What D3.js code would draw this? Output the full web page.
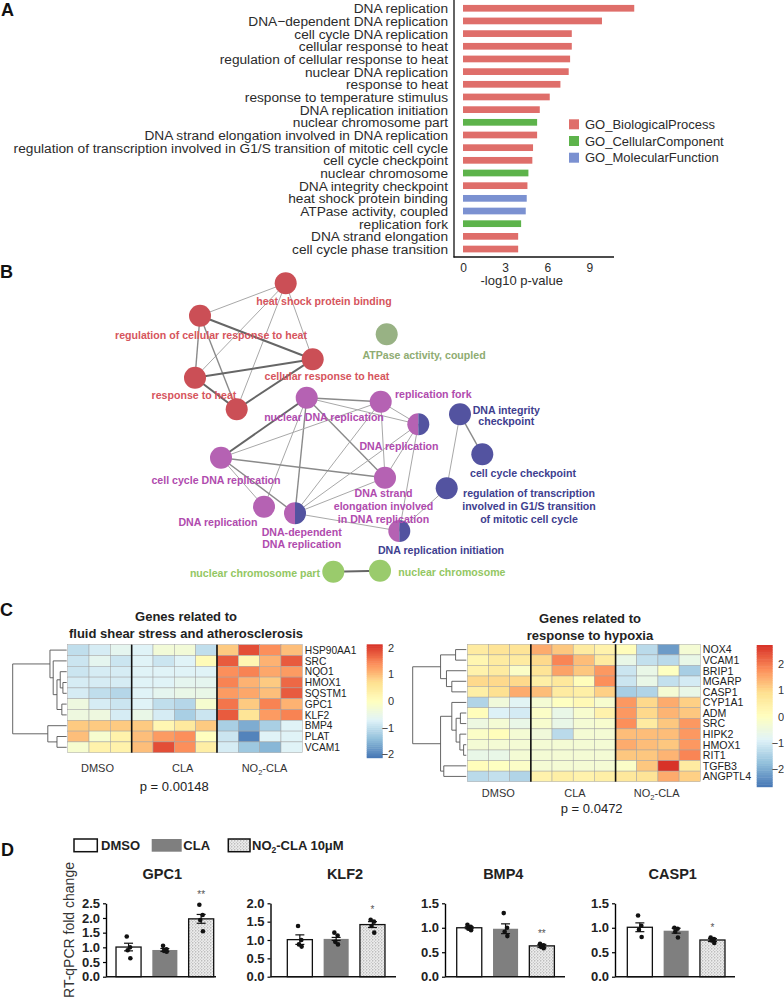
<!DOCTYPE html>
<html>
<head>
<meta charset="utf-8">
<script src="https://cdn.jsdelivr.net/npm/d3@7"></script>
<style>
  body { margin: 0; background: #fff; }
  svg { display: block; font-family: "Liberation Sans", Arial, sans-serif; }
</style>
</head>
<body>
<svg id="fig" width="784" height="998"></svg>
<script>
// ---------- panel A data ----------
const goTerms = ["DNA replication", "DNA\u2212dependent DNA replication", "cell cycle DNA replication",
  "cellular response to heat", "regulation of cellular response to heat", "nuclear DNA replication",
  "response to heat", "response to temperature stimulus", "DNA replication initiation",
  "nuclear chromosome part", "DNA strand elongation involved in DNA replication",
  "regulation of transcription involved in G1/S transition of mitotic cell cycle",
  "cell cycle checkpoint", "nuclear chromosome", "DNA integrity checkpoint",
  "heat shock protein binding", "ATPase activity, coupled", "replication fork",
  "DNA strand elongation", "cell cycle phase transition"];
const goLogP = [12.2, 9.9, 7.75, 7.75, 7.63, 7.53, 6.94, 6.18, 5.47, 5.28, 5.28, 4.99, 4.94, 4.66, 4.59, 4.54, 4.47, 4.14, 3.93, 3.93];
const goSource = ["BP", "BP", "BP", "BP", "BP", "BP", "BP", "BP", "BP", "CC", "BP", "BP", "BP", "CC", "BP", "MF", "MF", "CC", "BP", "BP"];
const goSourceNames = ["GO_BiologicalProcess", "GO_CellularComponent", "GO_MolecularFunction"];

// ---------- panel B data ----------
const netIds = ["hs", "rcr", "crh", "rh", "rts", "atp", "ndr", "rf", "dr1", "ccdr", "dse", "dr2", "ddr", "dri", "dic", "ccc", "rtr", "ncp", "nc"];
const netLabels = [["heat shock protein binding"], ["regulation of cellular response to heat"], ["cellular response to heat"],
  ["response to heat"], [], ["ATPase activity, coupled"], ["nuclear DNA replication"], ["replication fork"],
  ["DNA replication"], ["cell cycle DNA replication"], ["DNA strand", "elongation involved", "in DNA replication"],
  ["DNA replication"], ["DNA-dependent", "DNA replication"], ["DNA replication initiation"],
  ["DNA integrity", "checkpoint"], ["cell cycle checkpoint"],
  ["regulation of transcription", "involved in G1/S transition", "of mitotic cell cycle"],
  ["nuclear chromosome part"], ["nuclear chromosome"]];
const netGroups = [["heat"], ["heat"], ["heat"], ["heat"], ["heat"], ["atp"], ["repl"], ["repl"], ["repl", "check"],
  ["repl"], ["repl"], ["repl"], ["repl", "check"], ["repl", "check"], ["check"], ["check"], ["check"], ["chrom"], ["chrom"]];
const netLabelGroup = ["heat", "heat", "heat", "heat", "heat", "atp", "repl", "repl", "repl", "repl", "repl", "repl", "repl", "check", "check", "check", "check", "chrom", "chrom"];
const netEdges = [
  ["hs", "rcr", 1], ["hs", "rh", 1], ["hs", "rts", 1], ["hs", "crh", 1],
  ["rcr", "crh", 3], ["rcr", "rh", 2], ["rcr", "rts", 2], ["rh", "crh", 3], ["rh", "rts", 3], ["rts", "crh", 3],
  ["ndr", "ccdr", 3], ["ndr", "rf", 2], ["ndr", "dse", 2], ["ndr", "ddr", 2], ["ndr", "dr2", 1], ["ndr", "dr1", 1],
  ["rf", "ccdr", 1], ["rf", "dse", 1], ["rf", "ddr", 1], ["rf", "dr1", 1],
  ["ccdr", "dse", 2], ["ccdr", "dr2", 1], ["ccdr", "ddr", 2], ["dse", "ddr", 1], ["dse", "dr1", 1],
  ["ddr", "dr1", 1], ["ddr", "dri", 1], ["dr1", "dri", 1],
  ["dri", "rtr", 1], ["rtr", "dic", 1], ["dic", "ccc", 2], ["ncp", "nc", 3]];

// ---------- panel C data ----------
const hmGroups = ["DMSO", "CLA", "NO2-CLA"];
const hmGroupSizes = [3, 4, 4];
const hm1Genes = ["HSP90AA1", "SRC", "NQO1", "HMOX1", "SQSTM1", "GPC1", "KLF2", "BMP4", "PLAT", "VCAM1"];
const hm1Values = [
  [-1.0, -0.8, -0.6, -0.7, -0.3, -0.3, -1.0, 0.9, 1.9, 1.4, 1.0],
  [-0.9, -0.6, -0.9, -0.7, -0.9, -0.7, 0.1, 1.8, 0.2, 1.1, 1.8],
  [-0.9, -0.8, -0.8, -0.7, -0.7, -0.7, -0.7, 1.4, 1.5, 1.2, 1.3],
  [-0.8, -0.8, -0.8, -0.7, -0.7, -0.6, -0.6, 1.5, 1.1, 0.9, 1.7],
  [-0.8, -1.0, -1.1, -0.7, -0.6, -0.5, -0.5, 1.3, 1.2, 1.0, 1.8],
  [-0.4, -0.8, -0.9, -0.7, -1.0, -1.1, -0.2, 1.6, 0.9, 1.5, 1.1],
  [-0.4, -0.4, -0.8, -0.5, -0.8, -1.2, -0.9, 1.8, 0.6, 1.3, 1.5],
  [0.9, 0.9, 0.9, 0.9, 0.2, 0.5, 0.9, -1.2, -1.6, -1.2, -0.7],
  [1.0, -0.2, 0.3, 1.0, 1.3, 1.4, 0.0, -0.9, -2.0, -0.7, -0.7],
  [-0.2, 0.3, 0.3, 1.0, 1.9, 1.4, 0.4, -0.8, -1.3, -1.5, -0.7]];
const hm1Tree = { h: 1, kids: [
  { h: 0.31, kids: ["HSP90AA1", { h: 0.25, kids: ["SRC", { h: 0.18, kids: [
    { h: 0.12, kids: ["NQO1", { h: 0.07, kids: ["HMOX1", "SQSTM1"] }] },
    { h: 0.09, kids: ["GPC1", "KLF2"] }] }] }] },
  { h: 0.35, kids: ["BMP4", { h: 0.18, kids: ["PLAT", "VCAM1"] }] }] };
const hm1Title = ["Genes related to", "fluid shear stress and atherosclerosis"];
const hm1P = "p = 0.00148";
const hm1Ticks = [2, 1, 0, -1, -2];

const hm2Genes = ["NOX4", "VCAM1", "BRIP1", "MGARP", "CASP1", "CYP1A1", "ADM", "SRC", "HIPK2", "HMOX1", "RIT1", "TGFB3", "ANGPTL4"];
const hm2Values = [
  [0.6, 0.8, 0.8, 1.5, 1.2, 0.6, 0.4, 0.1, -1.3, -2.2, -0.3],
  [0.3, 0.6, 0.6, 1.0, 1.9, 1.3, 0.6, -0.6, -1.2, -1.3, -0.6],
  [0.4, 0.6, -0.1, 0.8, 1.6, 1.2, 1.7, -1.1, -0.6, 0.0, -1.5],
  [1.0, 1.0, 1.0, 0.5, 0.7, 0.1, 1.8, -1.1, -0.6, -1.2, -1.0],
  [0.5, 0.9, 1.5, 1.3, 0.6, 0.5, 1.1, -1.5, -1.4, -0.3, -0.6],
  [-1.4, -0.4, -0.8, -0.3, 0.0, 0.2, -0.2, 1.7, 1.0, 1.5, 1.1],
  [0.1, -0.9, -1.0, -0.1, -0.6, -0.2, 0.4, 1.7, 1.0, 1.4, 1.2],
  [-0.5, -0.3, -0.6, -0.2, -0.6, -0.3, -0.2, 1.8, 0.6, 1.2, 1.7],
  [-0.1, 0.1, -0.3, -0.4, -1.3, -0.3, -0.3, 1.3, 1.3, 1.3, 1.7],
  [-0.3, -0.3, -0.3, -0.3, -0.3, -0.3, -0.3, 1.5, 1.3, 1.2, 1.7],
  [-0.6, -0.6, -0.3, -0.3, -0.3, -0.3, -0.3, 1.2, 1.2, 1.4, 1.9],
  [0.1, 0.0, -0.1, -0.3, -0.3, -0.3, -0.3, -0.1, 1.2, 2.7, 0.6],
  [-1.3, -1.2, -1.4, 0.4, 0.5, 0.4, 0.5, 0.7, 0.8, 1.5, 1.1]];
const hm2Tree = { h: 1, kids: [
  { h: 0.48, kids: [{ h: 0.2, kids: ["NOX4", "VCAM1"] },
    { h: 0.37, kids: ["BRIP1", { h: 0.27, kids: ["MGARP", "CASP1"] }] }] },
  { h: 0.48, kids: [
    { h: 0.27, kids: ["CYP1A1", { h: 0.19, kids: [{ h: 0.11, kids: ["ADM", "SRC"] },
      { h: 0.12, kids: ["HIPK2", { h: 0.05, kids: ["HMOX1", "RIT1"] }] }] }] },
    { h: 0.42, kids: ["TGFB3", "ANGPTL4"] }] }] };
const hm2Title = ["Genes related to", "response to hypoxia"];
const hm2P = "p = 0.0472";
const hm2Ticks = [2, 1, 0, -1, -2];

// ---------- panel D data ----------
const qGenes = ["GPC1", "KLF2", "BMP4", "CASP1"];
const qGroups = ["DMSO", "CLA", "NO2-CLA 10\u03bcM"];
const qMean = [[1.01, 0.91, 1.97], [1.01, 1.03, 1.42], [1.0, 0.98, 0.63], [1.01, 0.94, 0.75]];
const qSem = [[0.13, 0.05, 0.15], [0.13, 0.04, 0.08], [0.02, 0.10, 0.03], [0.09, 0.05, 0.03]];
const qPoints = [
  [[1.37, 1.0, 0.9, 0.63], [1.05, 0.93, 0.88, 0.85], [2.45, 2.1, 1.93, 1.55]],
  [[1.38, 1.0, 0.88, 0.82], [1.2, 1.12, 0.95, 0.88], [1.55, 1.5, 1.38, 1.2]],
  [[1.06, 1.02, 0.98, 0.95], [1.3, 1.0, 0.92, 0.83], [0.67, 0.64, 0.61, 0.58]],
  [[1.25, 1.04, 0.96, 0.81], [1.0, 0.98, 0.92, 0.8], [0.8, 0.77, 0.74, 0.69]]];
const qYMax = [2.5, 2.0, 1.5, 1.5];
const qSig = ["**", "*", "**", "*"];

// ======================================================
const svg = d3.select("#fig");
svg.append("rect").attr("width", 784).attr("height", 998).attr("fill", "#fff");

const defs = svg.append("defs");
const pat = defs.append("pattern").attr("id", "stipple").attr("patternUnits", "userSpaceOnUse")
  .attr("width", 3).attr("height", 3);
pat.append("rect").attr("width", 3).attr("height", 3).attr("fill", "#ececec");
pat.append("circle").attr("cx", 0.8).attr("cy", 0.8).attr("r", 0.6).attr("fill", "#8a8a8a");
pat.append("circle").attr("cx", 2.3).attr("cy", 2.3).attr("r", 0.5).attr("fill", "#b0b0b0");

function panelLabel(t, x, y) {
  svg.append("text").attr("x", x).attr("y", y).attr("font-size", 18)
    .attr("font-weight", "bold").attr("fill", "#111").text(t);
}
panelLabel("A", 1, 16);
panelLabel("B", 0, 278);
panelLabel("C", 0, 616);
panelLabel("D", 1, 856);

// ---------------- Panel A ----------------
const srcColor = d3.scaleOrdinal().domain(["BP", "CC", "MF"]).range(["#df6e6a", "#5db34b", "#7b91d1"]);
const yA = d3.scaleBand().domain(goTerms).range([2, 255.3]).paddingInner(0.47).paddingOuter(0.23);
const xA = d3.scaleLinear().domain([0, 10.9]).range([463, 616]);
const gA = svg.append("g");

gA.selectAll(".bar").data(goTerms).enter().append("rect")
  .attr("x", xA(0))
  .attr("y", d => yA(d))
  .attr("width", (d, i) => xA(goLogP[i]) - xA(0))
  .attr("height", yA.bandwidth())
  .attr("fill", (d, i) => srcColor(goSource[i]));

gA.selectAll(".lab").data(goTerms).enter().append("text")
  .attr("x", 448)
  .attr("y", d => yA(d) + yA.bandwidth() / 2)
  .attr("dy", "0.36em")
  .attr("text-anchor", "end")
  .attr("font-size", 13.7)
  .attr("fill", "#2b2b2b")
  .text(d => d);

const axA = gA.append("g").attr("transform", "translate(0,257)")
  .call(d3.axisBottom(xA).tickValues([0, 3, 6, 9]).tickSize(0).tickPadding(6));
axA.select(".domain").remove();
axA.selectAll("text").attr("font-size", 12).attr("fill", "#2b2b2b")
  .attr("font-family", "'Liberation Sans', Arial, sans-serif");
gA.append("line").attr("x1", 454).attr("x2", 454).attr("y1", 0).attr("y2", 257.5).attr("stroke", "#111").attr("stroke-width", 1.3);
gA.append("line").attr("x1", 453.5).attr("x2", 614).attr("y1", 257).attr("y2", 257).attr("stroke", "#111").attr("stroke-width", 1.3);
gA.append("text").attr("x", 521.7).attr("y", 285).attr("text-anchor", "middle").attr("font-size", 13)
  .attr("fill", "#2b2b2b").text("-log10 p-value");

const legA = gA.selectAll(".leg").data(["BP", "CC", "MF"]).enter().append("g")
  .attr("transform", (d, i) => `translate(569,${124.3 + i * 16.7})`);
legA.append("rect").attr("x", 0).attr("y", -5).attr("width", 10).attr("height", 10).attr("fill", d => srcColor(d));
legA.append("text").attr("x", 16).attr("dy", "0.36em").attr("font-size", 13).attr("fill", "#2b2b2b")
  .text((d, i) => goSourceNames[i]);

// ---------------- Panel B ----------------
// fixed network layout (node centres and label anchors, in layout units)
const netLayout = {
  hs: [155.7, 13.3], rcr: [70, 45.7], crh: [182.7, 89.3], rh: [65, 107.7], rts: [106.7, 139.3],
  atp: [256.7, 64.3], ndr: [176.7, 127.7], rf: [250.7, 131.7], dr1: [288.3, 154.3], ccdr: [91, 187.7],
  dse: [255, 207.7], dr2: [134, 236.7], ddr: [165, 243.3], dri: [269.3, 261], dic: [330, 144.3],
  ccc: [352.3, 184.3], rtr: [316.7, 218.3], ncp: [203.3, 301.7], nc: [250, 300.7]
};
const labelLayout = {
  hs: [194, 31, "middle", 0], rcr: [81, 65, "middle", 0], crh: [197, 106, "middle", 0],
  rh: [64, 124.7, "middle", 0], atp: [294, 85, "middle", 0], ndr: [194, 146.7, "middle", 0],
  rf: [265, 123.7, "start", 0], dr1: [269, 175.7, "middle", 0], ccdr: [86, 210, "middle", 0],
  dse: [253.5, 222.7, "middle", 13], dr2: [88, 251.7, "middle", 0], ddr: [171.7, 261.7, "middle", 12.3],
  dri: [311, 280, "middle", 0], dic: [376.3, 140.5, "middle", 10.5], ccc: [393, 203, "middle", 0],
  rtr: [399, 223, "middle", 13], ncp: [190, 302.7, "end", 0], nc: [268.3, 302.3, "start", 0]
};
const xB = d3.scaleLinear().domain([0, 400]).range([130, 530]);
const yB = d3.scaleLinear().domain([0, 330]).range([270, 600]);
const nodeFill = { heat: "#cb4f56", atp: "#98b284", repl: "#b562b3", check: "#5353a0", chrom: "#9acb6c" };
const labelFill = { heat: "#d6555d", atp: "#8fac72", repl: "#b04bae", check: "#40408f", chrom: "#93c763" };
const edgeStroke = { 1: ["#a8a8a8", 1], 2: ["#8a8a8a", 1.4], 3: ["#666", 2] };

const gB = svg.append("g");
gB.selectAll(".edge").data(netEdges).enter().append("line")
  .attr("x1", d => xB(netLayout[d[0]][0])).attr("y1", d => yB(netLayout[d[0]][1]))
  .attr("x2", d => xB(netLayout[d[1]][0])).attr("y2", d => yB(netLayout[d[1]][1]))
  .attr("stroke", d => edgeStroke[d[2]][0]).attr("stroke-width", d => edgeStroke[d[2]][1]);

const nodeR = 11;
const nodes = gB.selectAll(".node").data(netIds).enter().append("g")
  .attr("transform", d => `translate(${xB(netLayout[d][0])},${yB(netLayout[d][1])})`);
nodes.each(function (d, i) {
  const g = d3.select(this);
  const grp = netGroups[i];
  if (grp.length === 1) {
    g.append("circle").attr("r", nodeR).attr("fill", nodeFill[grp[0]]);
  } else {
    const arc = d3.arc().innerRadius(0).outerRadius(nodeR);
    g.append("path").attr("d", arc({ startAngle: Math.PI, endAngle: 2 * Math.PI })).attr("fill", nodeFill[grp[0]]);
    g.append("path").attr("d", arc({ startAngle: 0, endAngle: Math.PI })).attr("fill", nodeFill[grp[1]]);
  }
});

netIds.forEach((id, i) => {
  if (!netLabels[i].length) return;
  const L = labelLayout[id];
  const t = gB.append("text")
    .attr("x", xB(L[0])).attr("y", yB(L[1]))
    .attr("text-anchor", L[2]).attr("font-size", 10.6).attr("font-weight", "bold")
    .attr("fill", labelFill[netLabelGroup[i]]);
  netLabels[i].forEach((line, j) => {
    t.append("tspan").attr("x", xB(L[0])).attr("dy", j === 0 ? "0.36em" : L[3]).text(line);
  });
});

// ---------------- Panel C ----------------
const rdylbu = ["#4575b4", "#91bfdb", "#e0f3f8", "#ffffbf", "#fee090", "#fc8d59", "#d73027"];

function drawHeatmap(cfg) {
  const g = svg.append("g");
  const nCol = d3.sum(hmGroupSizes);
  const x = d3.scaleBand().domain(d3.range(nCol)).range([cfg.x0, cfg.x1]);
  const y = d3.scaleBand().domain(cfg.genes).range([cfg.y0, cfg.y1]);
  const stops = d3.range(7).map(k => cfg.dom[0] + k * (cfg.dom[1] - cfg.dom[0]) / 6);
  const color = d3.scaleLinear().domain(stops).range(rdylbu).clamp(true);

  cfg.values.forEach((row, r) => {
    g.selectAll(null).data(row).enter().append("rect")
      .attr("x", (d, c) => x(c)).attr("y", y(cfg.genes[r]))
      .attr("width", x.bandwidth()).attr("height", y.bandwidth())
      .attr("fill", d => color(d)).attr("stroke", "#a3a3a3").attr("stroke-width", 0.5);
  });
  // group separators
  let acc = 0;
  hmGroupSizes.slice(0, -1).forEach(s => {
    acc += s;
    g.append("line").attr("x1", x(acc)).attr("x2", x(acc)).attr("y1", cfg.y0).attr("y2", cfg.y1)
      .attr("stroke", "#111").attr("stroke-width", 1.6);
  });
  // row labels
  g.selectAll(null).data(cfg.genes).enter().append("text")
    .attr("x", cfg.x1 + 2.5).attr("y", d => y(d) + y.bandwidth() / 2).attr("dy", "0.36em")
    .attr("font-size", cfg.rowFont).attr("fill", "#222").text(d => d);
  // dendrogram
  const dg = g.append("g").attr("stroke", "#555").attr("stroke-width", 0.9);
  const hx = d3.scaleLinear().domain([0, 1]).range([cfg.x0 - 1, cfg.dendroX]);
  function dendro(node) {
    if (typeof node === "string") return { y: y(node) + y.bandwidth() / 2, h: 0 };
    const k = node.kids.map(dendro);
    dg.append("line").attr("x1", hx(node.h)).attr("x2", hx(node.h)).attr("y1", k[0].y).attr("y2", k[1].y);
    k.forEach(c => dg.append("line").attr("x1", hx(node.h)).attr("x2", hx(c.h)).attr("y1", c.y).attr("y2", c.y));
    return { y: (k[0].y + k[1].y) / 2, h: node.h };
  }
  dendro(cfg.tree);
  // titles
  cfg.title.forEach((line, j) => {
    g.append("text").attr("x", cfg.titleX).attr("y", cfg.titleY + j * 17.3).attr("dy", "0.36em")
      .attr("text-anchor", "middle").attr("font-size", 13).attr("font-weight", "bold").attr("fill", "#222").text(line);
  });
  // group labels
  hmGroups.forEach((name, j) => {
    const t = g.append("text").attr("x", cfg.groupX[j]).attr("y", cfg.groupY).attr("dy", "0.36em")
      .attr("text-anchor", "middle").attr("font-size", 11).attr("fill", "#333");
    if (name.startsWith("NO2")) {
      t.append("tspan").text("NO");
      t.append("tspan").attr("font-size", 7.5).attr("dy", 3).text("2");
      t.append("tspan").attr("dy", -3).text("-CLA");
    } else t.text(name);
  });
  g.append("text").attr("x", cfg.pX).attr("y", cfg.pY).attr("dy", "0.36em").attr("text-anchor", "middle")
    .attr("font-size", 13).attr("fill", "#222").text(cfg.p);
  // colour bar
  const cb = d3.scaleLinear().domain(cfg.dom).range([cfg.cbY1, cfg.cbY0]);
  const nStep = 60;
  g.selectAll(null).data(d3.range(nStep)).enter().append("rect")
    .attr("x", cfg.cbX).attr("width", 16)
    .attr("y", k => cb(cfg.dom[0] + (k + 1) * (cfg.dom[1] - cfg.dom[0]) / nStep))
    .attr("height", (cfg.cbY1 - cfg.cbY0) / nStep + 0.5)
    .attr("fill", k => color(cfg.dom[0] + (k + 0.5) * (cfg.dom[1] - cfg.dom[0]) / nStep));
  g.selectAll(null).data(cfg.ticks).enter().append("text")
    .attr("x", cfg.cbX + 27.5).attr("y", d => cb(d)).attr("dy", "0.36em").attr("text-anchor", "end")
    .attr("font-size", 11).attr("fill", "#333").text(d => d < 0 ? "\u2212" + Math.abs(d) : d);
}

drawHeatmap({
  genes: hm1Genes, values: hm1Values, tree: hm1Tree, title: hm1Title, p: hm1P, ticks: hm1Ticks,
  x0: 67.7, x1: 302.3, y0: 644.7, y1: 752.7, dendroX: 12.7, rowFont: 10.2, dom: [-2.13, 2.13],
  titleX: 186, titleY: 616, groupX: [97.5, 182.7, 264.5], groupY: 768, pX: 174.3, pY: 786.7,
  cbX: 366.7, cbY0: 644.3, cbY1: 757.7
});
drawHeatmap({
  genes: hm2Genes, values: hm2Values, tree: hm2Tree, title: hm2Title, p: hm2P, ticks: hm2Ticks,
  x0: 467.3, x1: 700.3, y0: 644.3, y1: 781.7, dendroX: 412.7, rowFont: 10.6, dom: [-2.66, 2.72],
  titleX: 590, titleY: 618, groupX: [498.3, 575, 656.7], groupY: 793.3, pX: 591.7, pY: 808.3,
  cbX: 756.7, cbY0: 645, cbY1: 786.7
});

// ---------------- Panel D ----------------
const qAxisX = [106, 270.5, 445, 615];
const qBarStart = [116, 287.3, 456.7, 627.3];
const qAxisEnd = [216, 396, 565, 735];
const qTitleX = [162.3, 345, 503.3, 672.7];
const qJitter = [-3, 2.5, -1.5, 3];
const qFill = ["#ffffff", "#7f7f7f", "url(#stipple)"];
const qStroke = ["#111", "none", "#111"];

const gD = svg.append("g");
qGenes.forEach((gene, gi) => {
  const g = gD.append("g");
  const y = d3.scaleLinear().domain([0, qYMax[gi]]).range([976.7, 903.3]);
  const x = d3.scaleBand().domain(qGroups).range([qBarStart[gi] - 1.8, qBarStart[gi] - 1.8 + 101.3])
    .paddingInner(0.31).paddingOuter(0.05);

  g.selectAll(".bar").data(qGroups).enter().append("rect")
    .attr("x", d => x(d)).attr("y", (d, i) => y(qMean[gi][i]))
    .attr("width", x.bandwidth()).attr("height", (d, i) => y(0) - y(qMean[gi][i]))
    .attr("fill", (d, i) => qFill[i]).attr("stroke", (d, i) => qStroke[i]).attr("stroke-width", 1.3);

  qGroups.forEach((grp, i) => {
    const cx = x(grp) + x.bandwidth() / 2;
    const m = qMean[gi][i], s = qSem[gi][i];
    g.append("line").attr("x1", cx).attr("x2", cx).attr("y1", y(m - s)).attr("y2", y(m + s))
      .attr("stroke", "#111").attr("stroke-width", 1.2);
    [m - s, m + s].forEach(v => g.append("line").attr("x1", cx - 4.5).attr("x2", cx + 4.5)
      .attr("y1", y(v)).attr("y2", y(v)).attr("stroke", "#111").attr("stroke-width", 1.2));
    g.selectAll(null).data(qPoints[gi][i]).enter().append("circle")
      .attr("cx", (d, k) => cx + qJitter[k] * 0.6).attr("cy", d => y(d)).attr("r", 2.3).attr("fill", "#111");
    if (i === 2) {
      const top = Math.max(d3.max(qPoints[gi][i]), m + s);
      g.append("text").attr("x", cx).attr("y", y(top) - 7).attr("text-anchor", "middle")
        .attr("font-size", 10).attr("fill", "#555").text(qSig[gi]);
    }
  });

  const ax = g.append("g").attr("transform", `translate(${qAxisX[gi]},0)`)
    .call(d3.axisLeft(y).tickValues(d3.range(0, qYMax[gi] + 0.01, 0.5)).tickFormat(d3.format(".1f"))
      .tickSize(3).tickSizeOuter(0).tickPadding(3));
  ax.select(".domain").attr("stroke-width", 1.4);
  ax.selectAll("line").attr("stroke-width", 1.2);
  ax.selectAll("text").attr("font-size", 13).attr("font-weight", "bold").attr("fill", "#222")
    .attr("font-family", "'Liberation Sans', Arial, sans-serif");
  g.append("line").attr("x1", qAxisX[gi]).attr("x2", qAxisEnd[gi]).attr("y1", y(0)).attr("y2", y(0))
    .attr("stroke", "#111").attr("stroke-width", 1.4);
  g.append("text").attr("x", qTitleX[gi]).attr("y", 874).attr("dy", "0.36em").attr("text-anchor", "middle")
    .attr("font-size", 14.5).attr("font-weight", "bold").attr("fill", "#222").text(gene);
});

gD.append("text").attr("transform", "translate(69,930) rotate(-90)").attr("dy", "0.36em")
  .attr("text-anchor", "middle").attr("font-size", 14).attr("fill", "#333").text("RT-qPCR fold change");

// legend D
const legBoxX = [74, 151.7, 228.3];
const legBoxW = [23.3, 30, 21.7];
const legTextX = [101, 183.3, 252];
qGroups.forEach((grp, i) => {
  gD.append("rect").attr("x", legBoxX[i]).attr("y", 839).attr("width", legBoxW[i]).attr("height", 12.7)
    .attr("fill", qFill[i]).attr("stroke", qStroke[i]).attr("stroke-width", 1.5);
  const t = gD.append("text").attr("x", legTextX[i]).attr("y", 845.3).attr("dy", "0.36em")
    .attr("font-size", 13).attr("font-weight", "bold").attr("fill", "#222");
  if (grp.startsWith("NO2")) {
    t.append("tspan").text("NO");
    t.append("tspan").attr("font-size", 8.5).attr("dy", 3.5).text("2");
    t.append("tspan").attr("dy", -3.5).text(grp.slice(3));
  } else t.text(grp);
});
</script>
</body>
</html>
